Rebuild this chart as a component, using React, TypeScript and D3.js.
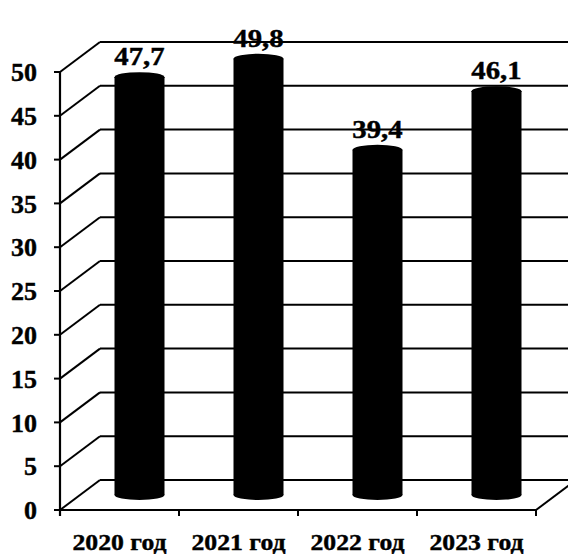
import React from "react";
import * as d3 from "d3";

const categories = ["2020 год", "2021 год", "2022 год", "2023 год"];
const values = [47.7, 49.8, 39.4, 46.1];
const valueLabels = ["47,7", "49,8", "39,4", "46,1"];
const yTicks = [0, 5, 10, 15, 20, 25, 30, 35, 40, 45, 50];

const W = 568;
const H = 554;
const DX = 40;
const DY = -30;
const FONT = "'Liberation Serif', 'Times New Roman', serif";

export default function App() {
  const y = d3.scaleLinear().domain([0, 50]).range([510, 72]);
  const x = d3.scaleBand<string>().domain(categories).range([60, 536]).padding(0);
  const bw = x.bandwidth();
  const xLeft = x.range()[0];
  const xRight = x.range()[1];
  const rx = 25;
  const ry = 5;

  return (
    <svg
      width={W}
      height={H}
      viewBox={`0 0 ${W} ${H}`}
      style={{ position: "absolute", left: 0, top: 0, background: "#fff" }}
    >
      <rect x={0} y={0} width={W} height={H} fill="#fff" />
      {yTicks.map((t) => (
        <g key={"g" + t} stroke="#000" strokeWidth={2} fill="none">
          <line x1={xLeft} y1={y(t)} x2={xLeft + DX} y2={y(t) + DY} />
          <line x1={xLeft + DX} y1={y(t) + DY} x2={xRight + DX} y2={y(t) + DY} />
        </g>
      ))}
      <line x1={xLeft} y1={y(0)} x2={xRight} y2={y(0)} stroke="#000" strokeWidth={2.2} />
      <line x1={xRight} y1={y(0)} x2={xRight + DX} y2={y(0) + DY} stroke="#000" strokeWidth={2} />
      <line x1={xLeft} y1={y(50)} x2={xLeft} y2={y(0) + 6} stroke="#000" strokeWidth={2.2} />
      {yTicks.map((t) => (
        <g key={"t" + t}>
          <line x1={xLeft - 6} y1={y(t)} x2={xLeft} y2={y(t)} stroke="#000" strokeWidth={2} />
          <text
            x={37}
            y={y(t)}
            dy="0.35em"
            textAnchor="end"
            fontFamily={FONT}
            fontWeight="bold"
            fontSize={26}
            stroke="#000"
            strokeWidth={0.4}
          >
            {t}
          </text>
        </g>
      ))}
      {categories.map((c) => (
        <line key={"xt" + c} x1={x(c)!} y1={y(0)} x2={x(c)!} y2={y(0) + 6} stroke="#000" strokeWidth={2} />
      ))}
      <line x1={xRight} y1={y(0)} x2={xRight} y2={y(0) + 6} stroke="#000" strokeWidth={2} />
      {categories.map((c) => {
        const cx = x(c)! + bw / 2;
        return (
          <text
            key={"xl" + c}
            transform={`translate(${cx},550) scale(1.12,1)`}
            textAnchor="middle"
            fontFamily={FONT}
            fontWeight="bold"
            fontSize={23}
            stroke="#000"
            strokeWidth={0.4}
          >
            {c}
          </text>
        );
      })}
      {categories.map((c, i) => {
        const cx = x(c)! + bw / 2 + DX / 2;
        const base = y(0) + DY / 2;
        const top = y(values[i]) + DY / 2;
        return (
          <g key={"b" + c} fill="#000">
            <ellipse cx={cx} cy={base} rx={rx} ry={ry} />
            <rect x={cx - rx} y={top} width={rx * 2} height={base - top} />
            <ellipse cx={cx} cy={top} rx={rx} ry={ry} />
            <text
              transform={`translate(${cx},${top - 12}) scale(1.15,1)`}
              textAnchor="middle"
              fontFamily={FONT}
              fontWeight="bold"
              fontSize={25}
              stroke="#000"
              strokeWidth={0.4}
            >
              {valueLabels[i]}
            </text>
          </g>
        );
      })}
    </svg>
  );
}
